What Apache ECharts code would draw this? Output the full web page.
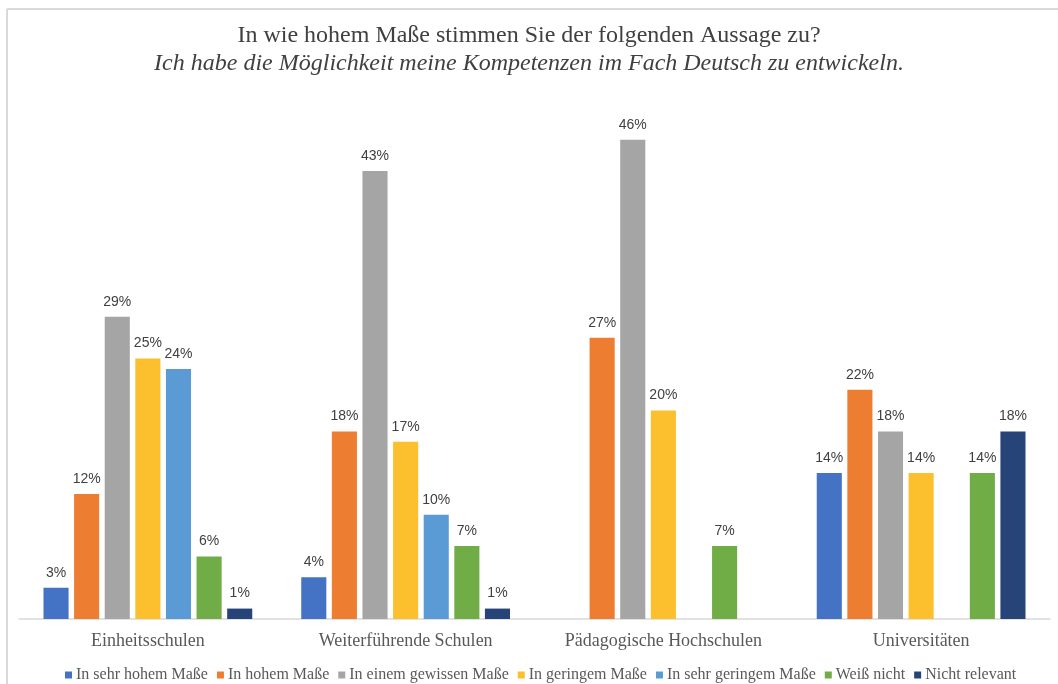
<!DOCTYPE html>
<html>
<head>
<meta charset="utf-8">
<script src="https://cdn.jsdelivr.net/npm/echarts@6/dist/echarts.min.js"></script>
<style>html,body{margin:0;padding:0;background:#fff}#c{width:1058px;height:684px}</style>
</head>
<body>
<div id="c"></div>
<script>
const titleLine1 = 'In wie hohem Maße stimmen Sie der folgenden Aussage zu?';
const titleLine2 = 'Ich habe die Möglichkeit meine Kompetenzen im Fach Deutsch zu entwickeln.';
const categories = ['Einheitsschulen', 'Weiterführende Schulen', 'Pädagogische Hochschulen', 'Universitäten'];
const seriesNames = ['In sehr hohem Maße', 'In hohem Maße', 'In einem gewissen Maße', 'In geringem Maße', 'In sehr geringem Maße', 'Weiß nicht', 'Nicht relevant'];
const sehrHohem    = [3, 4, null, 14];
const hohem        = [12, 18, 27, 22];
const gewissen     = [29, 43, 46, 18];
const geringem     = [25, 17, 20, 14];
const sehrGeringem = [24, 10, null, null];
const weissNicht   = [6, 7, 7, 14];
const nichtRelevant= [1, 1, null, 18];
const seriesValues = [sehrHohem, hohem, gewissen, geringem, sehrGeringem, weissNicht, nichtRelevant];
const colors = ['#4472C4', '#ED7D31', '#A5A5A5', '#FCBF2D', '#5B9BD5', '#70AD47', '#264478'];

const chart = echarts.init(document.getElementById('c'));
chart.setOption({
  animation: false,
  backgroundColor: '#fff',
  color: colors,
  graphic: [
    { type: 'line', shape: { x1: 7, y1: 9, x2: 1058, y2: 9 }, style: { stroke: '#d9d9d9', lineWidth: 2 }, silent: true },
    { type: 'line', shape: { x1: 7, y1: 9, x2: 7, y2: 684 }, style: { stroke: '#d9d9d9', lineWidth: 2 }, silent: true }
  ],
  title: {
    text: titleLine1,
    subtext: titleLine2,
    left: 'center',
    top: 22,
    itemGap: 0,
    padding: 0,
    textStyle: { fontFamily: 'Liberation Serif', fontSize: 24, fontWeight: 'normal', color: '#404040', lineHeight: 28 },
    subtextStyle: { fontFamily: 'Liberation Serif', fontSize: 24, fontStyle: 'italic', color: '#404040', lineHeight: 28 }
  },
  legend: {
    data: seriesNames,
    left: 60,
    top: 662,
    itemWidth: 7,
    itemHeight: 7,
    itemGap: 9,
    icon: 'rect',
    textStyle: { fontFamily: 'Liberation Serif', fontSize: 16, color: '#595959', padding: [0, 0, 0, -1] }
  },
  grid: { left: 19, right: 8, top: 98, bottom: 65 },
  xAxis: {
    type: 'category',
    data: categories,
    axisLine: { lineStyle: { color: '#d9d9d9', width: 1.5 } },
    axisTick: { show: false },
    axisLabel: { fontFamily: 'Liberation Serif', fontSize: 18, color: '#595959', margin: 13 }
  },
  yAxis: {
    type: 'value',
    min: 0, max: 50,
    show: false,
    splitLine: { show: false }
  },
  series: seriesNames.map((name, i) => ({
    name: name,
    type: 'bar',
    data: seriesValues[i],
    barGap: '22%',
    barCategoryGap: '19%',
    label: {
      show: true,
      position: 'top',
      distance: 8,
      formatter: p => (p.value == null ? '' : p.value + '%'),
      fontFamily: 'Liberation Sans',
      fontSize: 14,
      color: '#404040'
    }
  }))
});
</script>
</body>
</html>
